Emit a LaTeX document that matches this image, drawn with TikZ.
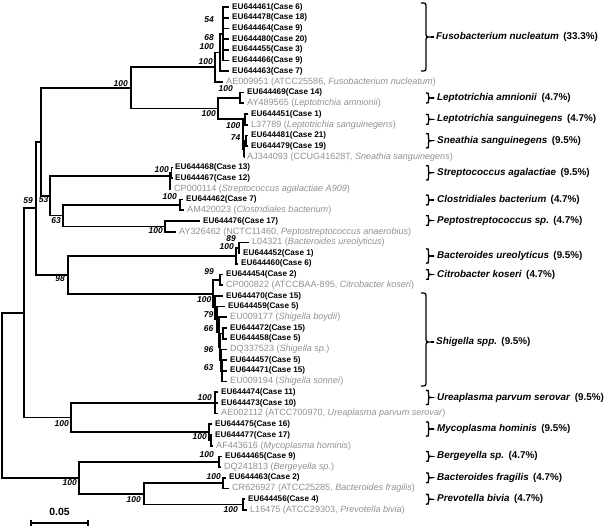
\documentclass[tikz,border=0pt]{standalone}
\usepackage{fontspec}
\setmainfont{Liberation Sans}
\definecolor{txtgray}{RGB}{145,145,145}
\newcommand\lbfont{\fontsize{8.2}{9}\selectfont\bfseries}
\newcommand\lgfont{\fontsize{9.1}{10}\selectfont}
\newcommand\bsfont{\fontsize{8.5}{9}\selectfont\bfseries\itshape}
\newcommand\spfont{\fontsize{9.9}{11}\selectfont\bfseries}
\newcommand\sbfont{\fontsize{10.5}{12}\selectfont\bfseries}
% right brace: #1 x, #2 top, #3 tip y, #4 bottom, #5 width
\newcommand\rbrc[5]{%
  \draw[brc] (#1,#2) .. controls ({#1+0.5*#5},#2) .. ({#1+0.5*#5},{#2+0.5*#5})
    -- ({#1+0.5*#5},{#3-0.5*#5}) .. controls ({#1+0.5*#5},#3) .. ({#1+#5},#3)
    .. controls ({#1+0.5*#5},#3) .. ({#1+0.5*#5},{#3+0.5*#5})
    -- ({#1+0.5*#5},{#4-0.5*#5}) .. controls ({#1+0.5*#5},#4) .. (#1,#4);
  \draw[brc] ({#1+#5},#3) -- ({#1+#5+3},#3);
}
\tikzset{
  br/.style={line width=1.7bp, line join=miter},
  brc/.style={line width=1.3bp},
  lb/.style={anchor=west, inner sep=0pt, font=\lbfont},
  lg/.style={anchor=west, inner sep=0pt, text=txtgray, font=\lgfont},
  bs/.style={anchor=east, inner sep=0pt, font=\bsfont},
  sp/.style={anchor=west, inner sep=0pt, font=\spfont},
}
\begin{document}
\begin{tikzpicture}[x=1bp,y=-1bp]
\useasboundingbox (0,0) rectangle (608,526);

% ---------- leaves ----------
\node[lb] (L0) at (232,7.0) {EU644461(Case 6)};
\node[lb] (L1) at (232,17.7) {EU644478(Case 18)};
\node[lb] (L2) at (232,28.4) {EU644464(Case 9)};
\node[lb] (L3) at (232,39.1) {EU644480(Case 20)};
\node[lb] (L4) at (232,49.8) {EU644455(Case 3)};
\node[lb] (L5) at (232,60.5) {EU644466(Case 9)};
\node[lb] (L6) at (232,71.2) {EU644463(Case 7)};
\node[lg] (L7) at (226,81.9) {AE009951 (ATCC25586, \textit{Fusobacterium nucleatum})};
\node[lb] (L8) at (247,92.6) {EU644469(Case 14)};
\node[lg] (L9) at (247,103.3) {AY489565 (\textit{Leptotrichia amnionii})};
\node[lb] (L10) at (251,114.0) {EU644451(Case 1)};
\node[lg] (L11) at (251,124.7) {L37789 (\textit{Leptotrichia sanguinegens})};
\node[lb] (L12) at (251,135.4) {EU644481(Case 21)};
\node[lb] (L13) at (251,146.1) {EU644479(Case 19)};
\node[lg] (L14) at (247,156.8) {AJ344093 (CCUG41628T, \textit{Sneathia sanguinegens})};
\node[lb] (L15) at (175,167.5) {EU644468(Case 13)};
\node[lb] (L16) at (175,178.2) {EU644467(Case 12)};
\node[lg] (L17) at (174,188.9) {CP000114 (\textit{Streptococcus agalactiae A909})};
\node[lb] (L18) at (186,199.6) {EU644462(Case 7)};
\node[lg] (L19) at (187,210.3) {AM420023 (\textit{Clostridiales bacterium})};
\node[lb] (L20) at (203,221.0) {EU644476(Case 17)};
\node[lg] (L21) at (179,231.7) {AY326462 (NCTC11460, \textit{Peptostreptococcus anaerobius})};
\node[lg] (L22) at (252,242.4) {L04321 (\textit{Bacteroides ureolyticus})};
\node[lb] (L23) at (243,253.1) {EU644452(Case 1)};
\node[lb] (L24) at (241,263.8) {EU644460(Case 6)};
\node[lb] (L25) at (226,274.5) {EU644454(Case 2)};
\node[lg] (L26) at (226,285.2) {CP000822 (ATCCBAA-895, \textit{Citrobacter koseri})};
\node[lb] (L27) at (226,295.9) {EU644470(Case 15)};
\node[lb] (L28) at (228,306.6) {EU644459(Case 5)};
\node[lg] (L29) at (230,317.3) {EU009177 (\textit{Shigella boydii})};
\node[lb] (L30) at (230,328.0) {EU644472(Case 15)};
\node[lb] (L31) at (230,338.7) {EU644458(Case 5)};
\node[lg] (L32) at (230,349.4) {DQ337523 (\textit{Shigella sp.})};
\node[lb] (L33) at (230,360.1) {EU644457(Case 5)};
\node[lb] (L34) at (230,370.8) {EU644471(Case 15)};
\node[lg] (L35) at (230,381.5) {EU009194 (\textit{Shigella sonnei})};
\node[lb] (L36) at (221,392.2) {EU644474(Case 11)};
\node[lb] (L37) at (221,402.9) {EU644473(Case 10)};
\node[lg] (L38) at (221,413.6) {AE002112 (ATCC700970, \textit{Ureaplasma parvum serovar})};
\node[lb] (L39) at (215,424.3) {EU644475(Case 16)};
\node[lb] (L40) at (215,435.0) {EU644477(Case 17)};
\node[lg] (L41) at (216,445.7) {AF443616 (\textit{Mycoplasma hominis})};
\node[lb] (L42) at (225,456.4) {EU644465(Case 9)};
\node[lg] (L43) at (224,467.1) {DQ241813 (\textit{Bergeyella sp.})};
\node[lb] (L44) at (229,477.8) {EU644463(Case 2)};
\node[lg] (L45) at (232,488.5) {CR626927 (ATCC25285, \textit{Bacteroides fragilis})};
\node[lb] (L46) at (248,499.2) {EU644456(Case 4)};
\node[lg] (L47) at (250,509.9) {L16475 (ATCC29303, \textit{Prevotella bivia})};

% ---------- internal nodes ----------
\coordinate (fI) at (223,33.75);
\coordinate (fJ) at (220,52.475);
\coordinate (fuso) at (215,67.19);
\coordinate (lam) at (240,97.95);
\coordinate (lsa) at (245,119.35);
\coordinate (lsaJ) at (243,119.35);
\coordinate (sne74) at (246,140.75);
\coordinate (sne) at (244,148.775);
\coordinate (lepto) at (218,108.65);
\coordinate (fl) at (131,87.92);
\coordinate (stI) at (171.5,172.85);
\coordinate (st) at (170,176);
\coordinate (cl) at (180,204.95);
\coordinate (pe) at (165,226.35);
\coordinate (n63) at (63,215.65);
\coordinate (n53) at (50,195.825);
\coordinate (n41) at (41,141.87);
\coordinate (bu89) at (239,247.75);
\coordinate (bu) at (236,255.775);
\coordinate (ci) at (220,279.85);
\coordinate (s63) at (222,370.8);
\coordinate (s96) at (221,360.1);
\coordinate (sP) at (223,333.35);
\coordinate (s66) at (220,346.725);
\coordinate (s79) at (219,332.01);
\coordinate (s2) at (217,319.3);
\coordinate (sh) at (215,307.6);
\coordinate (cs) at (213,293.73);
\coordinate (n98) at (68,274.75);
\coordinate (n36) at (36,208.31);
\coordinate (ur) at (215,402.9);
\coordinate (myI) at (211,440.35);
\coordinate (my) at (209,432.33);
\coordinate (mo) at (71,417.6);
\coordinate (n59) at (24,312.96);
\coordinate (be) at (219,461.75);
\coordinate (bf) at (223,483.15);
\coordinate (pv) at (243,504.55);
\coordinate (bp) at (144,493.85);
\coordinate (bd) at (79,477.8);
\coordinate (root) at (2,395.38);

% ---------- branches ----------
\foreach \k in {0,...,5} {\draw[br] (fI) |- ([xshift=-3bp]L\k.west);}
\draw[br] (fJ) |- (fI);
\draw[br] (fJ) |- ([xshift=-3bp]L6.west);
\draw[br] (fuso) |- (fJ);
\draw[br] (fuso) |- ([xshift=-3bp]L7.west);
\draw[br] (lam) |- ([xshift=-3bp]L8.west);
\draw[br] (lam) |- ([xshift=-3bp]L9.west);
\draw[br] (lsa) |- ([xshift=-3bp]L10.west);
\draw[br] (lsa) |- ([xshift=-3bp]L11.west);
\draw[br] (sne74) |- ([xshift=-3bp]L12.west);
\draw[br] (sne74) |- ([xshift=-3bp]L13.west);
\draw[br] (sne) |- (sne74);
\draw[br] (sne) |- ([xshift=-3bp]L14.west);
\draw[br] (lsaJ) |- (sne);
\draw[br] (lepto) |- (lam);
\draw[br] (lepto) |- (lsa);
\draw[br] (fl) |- (fuso);
\draw[br] (fl) |- (lepto);
\draw[br] (stI) |- ([xshift=-3bp]L15.west);
\draw[br] (stI) |- ([xshift=-3bp]L16.west);
\draw[br] (st) |- (stI);
\draw[br] (st) |- ([xshift=-3bp]L17.west);
\draw[br] (cl) |- ([xshift=-3bp]L18.west);
\draw[br] (cl) |- ([xshift=-3bp]L19.west);
\draw[br] (pe) |- ([xshift=-3bp]L20.west);
\draw[br] (pe) |- ([xshift=-3bp]L21.west);
\draw[br] (n63) |- (cl);
\draw[br] (n63) |- (pe);
\draw[br] (n53) |- (st);
\draw[br] (n53) |- (n63);
\draw[br] (n41) |- (fl);
\draw[br] (n41) |- (n53);
\draw[br] (bu89) |- ([xshift=-3bp]L22.west);
\draw[br] (bu89) |- ([xshift=-3bp]L23.west);
\draw[br] (bu) |- (bu89);
\draw[br] (bu) |- ([xshift=-3bp]L24.west);
\draw[br] (ci) |- ([xshift=-3bp]L25.west);
\draw[br] (ci) |- ([xshift=-3bp]L26.west);
\foreach \k in {33,34,35} {\draw[br] (s63) |- ([xshift=-3bp]L\k.west);}
\draw[br] (s96) |- ([xshift=-3bp]L32.west);
\draw[br] (s96) |- (s63);
\draw[br] (sP) |- ([xshift=-3bp]L30.west);
\draw[br] (sP) |- ([xshift=-3bp]L31.west);
\draw[br] (s66) |- (sP);
\draw[br] (s66) |- (s96);
\draw[br] (s79) |- ([xshift=-3bp]L29.west);
\draw[br] (s79) |- (s66);
\draw[br] (s2) |- ([xshift=-3bp]L28.west);
\draw[br] (s2) |- (s79);
\draw[br] (sh) |- ([xshift=-3bp]L27.west);
\draw[br] (sh) |- (s2);
\draw[br] (cs) |- (ci);
\draw[br] (cs) |- (sh);
\draw[br] (n98) |- (bu);
\draw[br] (n98) |- (cs);
\draw[br] (n36) |- (n41);
\draw[br] (n36) |- (n98);
\foreach \k in {36,37,38} {\draw[br] (ur) |- ([xshift=-3bp]L\k.west);}
\draw[br] (myI) |- ([xshift=-3bp]L40.west);
\draw[br] (myI) |- ([xshift=-3bp]L41.west);
\draw[br] (my) |- ([xshift=-3bp]L39.west);
\draw[br] (my) |- (myI);
\draw[br] (mo) |- (ur);
\draw[br] (mo) |- (my);
\draw[br] (n59) |- (n36);
\draw[br] (n59) |- (mo);
\draw[br] (be) |- ([xshift=-3bp]L42.west);
\draw[br] (be) |- ([xshift=-3bp]L43.west);
\draw[br] (bf) |- ([xshift=-3bp]L44.west);
\draw[br] (bf) |- ([xshift=-3bp]L45.west);
\draw[br] (pv) |- ([xshift=-3bp]L46.west);
\draw[br] (pv) |- ([xshift=-3bp]L47.west);
\draw[br] (bp) |- (bf);
\draw[br] (bp) |- (pv);
\draw[br] (bd) |- (be);
\draw[br] (bd) |- (bp);
\draw[br] (root) |- (n59);
\draw[br] (root) |- (bd);

% ---------- bootstrap values ----------
\node[bs] (b1) at (214,20) {54};
\node[bs] (b2) at (214,38) {68};
\node[bs] (b3) at (214,46.5) {100};
\node[bs] (b4) at (213,62) {100};
\node[bs] (b5) at (128,83.5) {100};
\node[bs] (b6) at (233,89) {100};
\node[bs] (b7) at (216,114) {100};
\node[bs] (b8) at (240.5,126) {100};
\node[bs] (b9) at (240.5,138) {74};
\node[bs] (b10) at (169,170) {100};
\node[bs] (b11) at (177,197) {100};
\node[bs] (b12) at (163,231) {100};
\node[bs] (b13) at (48.5,200) {53};
\node[bs] (b14) at (61,220.5) {63};
\node[bs] (b15) at (33,200.5) {59};
\node[bs] (b16) at (65,279) {98};
\node[bs] (b17) at (236,239) {89};
\node[bs] (b18) at (234,247) {100};
\node[bs] (b19) at (214,272) {99};
\node[bs] (b20) at (211.5,299.5) {100};
\node[bs] (b21) at (213.5,315) {79};
\node[bs] (b22) at (213.5,329) {66};
\node[bs] (b23) at (213.5,350) {96};
\node[bs] (b24) at (213.5,368) {63};
\node[bs] (b25) at (212,398) {100};
\node[bs] (b26) at (69,424) {100};
\node[bs] (b27) at (207,437) {100};
\node[bs] (b28) at (214,455) {100};
\node[bs] (b29) at (77,483) {100};
\node[bs] (b30) at (221,477) {100};
\node[bs] (b31) at (141,500) {100};
\node[bs] (b32) at (238,510) {100};

% ---------- species groups ----------
\rbrc{421}{3}{37}{71}{10}
\node[sp] (g1) at (436,37) {\textit{Fusobacterium nucleatum}\hspace{0.45em}(33.3\%)};
\rbrc{426}{93}{97.95}{103}{5}
\node[sp] (g2) at (437,97.95) {\textit{Leptotrichia amnionii}\hspace{0.45em}(4.7\%)};
\rbrc{426}{114.3}{119.35}{124.4}{5}
\node[sp] (g3) at (437,119.35) {\textit{Leptotrichia sanguinegens}\hspace{0.45em}(4.7\%)};
\rbrc{426}{133.5}{140.75}{148}{5}
\node[sp] (g4) at (437,140.75) {\textit{Sneathia sanguinegens}\hspace{0.45em}(9.5\%)};
\rbrc{426}{165.6}{172.85}{180.1}{5}
\node[sp] (g5) at (437,172.85) {\textit{Streptococcus agalactiae}\hspace{0.45em}(9.5\%)};
\rbrc{426}{195}{200}{205}{5}
\node[sp] (g6) at (437,200) {\textit{Clostridiales bacterium}\hspace{0.45em}(4.7\%)};
\rbrc{426}{215.5}{220.5}{225.5}{5}
\node[sp] (g7) at (437,220.5) {\textit{Peptostreptococcus sp.}\hspace{0.45em}(4.7\%)};
\rbrc{426}{248.8}{256}{263.2}{5}
\node[sp] (g8) at (437,256) {\textit{Bacteroides ureolyticus}\hspace{0.45em}(9.5\%)};
\rbrc{426}{269.5}{274.5}{279.5}{5}
\node[sp] (g9) at (437,274.5) {\textit{Citrobacter koseri}\hspace{0.45em}(4.7\%)};
\rbrc{421}{293}{342}{386}{10}
\node[sp] (g10) at (436,342) {\textit{Shigella spp.}\hspace{0.45em}(9.5\%)};
\rbrc{426}{390.3}{397.5}{404.7}{5}
\node[sp] (g11) at (437,397.5) {\textit{Ureaplasma parvum serovar}\hspace{0.45em}(9.5\%)};
\rbrc{426}{421.8}{429}{436.2}{5}
\node[sp] (g12) at (437,429) {\textit{Mycoplasma hominis}\hspace{0.45em}(9.5\%)};
\rbrc{426}{451.4}{456.4}{461.4}{5}
\node[sp] (g13) at (437,456.4) {\textit{Bergeyella sp.}\hspace{0.45em}(4.7\%)};
\rbrc{426}{472.8}{477.8}{482.8}{5}
\node[sp] (g14) at (437,477.8) {\textit{Bacteroides fragilis}\hspace{0.45em}(4.7\%)};
\rbrc{426}{494.2}{499.2}{504.2}{5}
\node[sp] (g15) at (437,499.2) {\textit{Prevotella bivia}\hspace{0.45em}(4.7\%)};

% ---------- scale bar ----------
\coordinate (sbL) at (31,523);
\coordinate (sbR) at (88,523);
\draw[br] (sbL) -- (sbR);
\draw[br] (31,519.5) -- (31,525.5);
\draw[br] (88,519.5) -- (88,525.5);
\node[font=\sbfont, inner sep=0pt] (sbt) at (59.5,512) {0.05};
\end{tikzpicture}
\end{document}
